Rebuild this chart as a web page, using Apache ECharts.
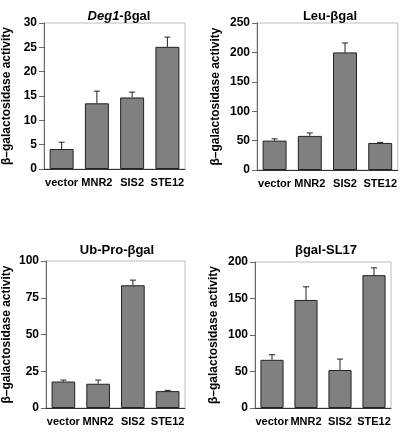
<!DOCTYPE html>
<html><head><meta charset="utf-8">
<script src="https://cdn.jsdelivr.net/npm/echarts@6/dist/echarts.min.js"></script>
<style>html,body{margin:0;padding:0;background:#fff}#c{width:400px;height:432px}</style>
</head><body><div id="c"></div>
<script>
const categories = ['vector','MNR2','SIS2','STE12'];
const deg1Values = [4.1, 13.5, 14.7, 25.1];
const deg1ErrTop = [5.5, 16.0, 15.8, 27.1];
const leuValues = [50, 58, 200, 46];
const leuErrTop = [53, 63, 216, 47];
const ubProValues = [18, 16.5, 83.5, 11.5];
const ubProErrTop = [19, 19, 87, 12];
const slValues = [66, 148, 52, 182];
const slErrTop = [73, 166, 67, 192];
const yMax = [30, 250, 100, 200];
const yInterval = [5, 50, 25, 50];

const panels = [
  {vals: deg1Values, err: deg1ErrTop},
  {vals: leuValues, err: leuErrTop},
  {vals: ubProValues, err: ubProErrTop},
  {vals: slValues, err: slErrTop}
];
const grids = [
  {left: 39, top: 23, width: 146, height: 146, nameGap: 31},
  {left: 257, top: 23, width: 141, height: 147, nameGap: 35},
  {left: 40, top: 261, width: 145, height: 147, nameGap: 33},
  {left: 255, top: 262, width: 136, height: 146, nameGap: 35}
];
const font = 'Liberation Sans, Arial, sans-serif';

const option = {
  animation: false,
  textStyle: {fontFamily: font},
  title: [
    {text: '{i|Deg1}{n|-βgal}', left: 114, top: 5, textAlign: 'center',
      textStyle: {rich: {i: {fontStyle: 'italic', fontWeight: 'bold', fontSize: 13, fontFamily: font, color: '#000'}, n: {fontWeight: 'bold', fontSize: 13, fontFamily: font, color: '#000'}}}},
    {text: 'Leu-βgal', left: 325, top: 5, textAlign: 'center', textStyle: {fontWeight: 'bold', fontSize: 13, fontFamily: font, color: '#000'}},
    {text: 'Ub-Pro-βgal', left: 112, top: 239, textAlign: 'center', textStyle: {fontWeight: 'bold', fontSize: 13, fontFamily: font, color: '#000'}},
    {text: 'βgal-SL17', left: 321, top: 239, textAlign: 'center', textStyle: {fontWeight: 'bold', fontSize: 13, fontFamily: font, color: '#000'}}
  ],
  grid: grids.map(g => ({left: g.left, top: g.top, width: g.width, height: g.height, show: true, borderColor: '#bbb', borderWidth: 1, backgroundColor: 'transparent'})),
  xAxis: grids.map((g, i) => ({
    type: 'category', gridIndex: i, data: categories, boundaryGap: true,
    axisLine: {lineStyle: {color: '#333', width: 1}},
    axisTick: {alignWithLabel: true, length: 4, lineStyle: {color: '#333'}},
    axisLabel: {color: '#000', fontWeight: 'bold', fontSize: 11, margin: 8, interval: 0, fontFamily: font}
  })),
  yAxis: grids.map((g, i) => ({
    type: 'value', gridIndex: i, min: 0, max: yMax[i], interval: yInterval[i],
    name: 'β–galactosidase activity', nameLocation: 'middle', nameGap: g.nameGap,
    nameTextStyle: {fontWeight: 'bold', fontSize: 12, color: '#000', fontFamily: font},
    axisLine: {show: true, lineStyle: {color: '#666', width: 1}},
    axisTick: {show: true, length: 5, lineStyle: {color: '#666'}},
    splitLine: {show: false},
    axisLabel: {color: '#000', fontWeight: 'bold', fontSize: 12, margin: 7, fontFamily: font}
  })),
  series: []
};

panels.forEach((p, i) => {
  option.series.push({
    type: 'bar', xAxisIndex: i, yAxisIndex: i, data: p.vals, barWidth: '68%',
    itemStyle: {color: '#808080', borderColor: '#222', borderWidth: 1}, z: 2
  });
  option.series.push({
    type: 'custom', xAxisIndex: i, yAxisIndex: i, z: 3,
    data: p.vals.map((v, k) => [k, v, p.err[k]]),
    renderItem: function (params, api) {
      const x = api.value(0);
      const lo = api.coord([x, api.value(1)]);
      const hi = api.coord([x, api.value(2)]);
      const cap = 3;
      return {type: 'group', children: [
        {type: 'line', shape: {x1: lo[0], y1: lo[1], x2: hi[0], y2: hi[1]}, style: {stroke: '#222', lineWidth: 1}},
        {type: 'line', shape: {x1: hi[0] - cap, y1: hi[1], x2: hi[0] + cap, y2: hi[1]}, style: {stroke: '#222', lineWidth: 1}}
      ]};
    }
  });
});

const chart = echarts.init(document.getElementById('c'), null, {renderer: 'canvas'});
chart.setOption(option);
</script></body></html>
